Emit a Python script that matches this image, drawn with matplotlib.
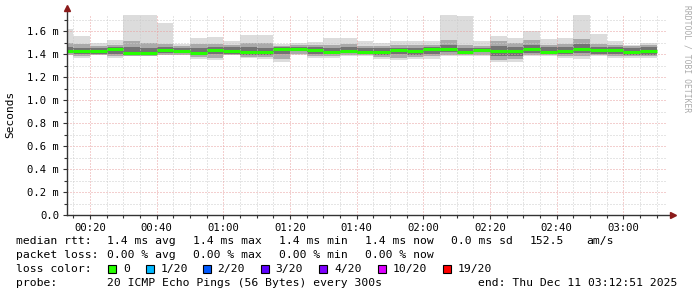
import matplotlib
matplotlib.use("Agg")
import matplotlib.pyplot as plt
from matplotlib.patches import Rectangle

# ---------------- data ----------------
bar_end = ["00:15", "00:20", "00:25", "00:30", "00:35", "00:40", "00:45", "00:50", "00:55",
           "01:00", "01:05", "01:10", "01:15", "01:20", "01:25", "01:30", "01:35", "01:40",
           "01:45", "01:50", "01:55", "02:00", "02:05", "02:10", "02:15", "02:20", "02:25",
           "02:30", "02:35", "02:40", "02:45", "02:50", "02:55", "03:00", "03:05", "03:10"]

rtt_med = [1.430, 1.425, 1.430, 1.440, 1.410, 1.412, 1.435, 1.430, 1.410, 1.435, 1.430, 1.415,
           1.420, 1.443, 1.447, 1.435, 1.418, 1.430, 1.420, 1.415, 1.435, 1.430, 1.443, 1.443,
           1.415, 1.435, 1.430, 1.430, 1.440, 1.415, 1.430, 1.440, 1.435, 1.435, 1.420, 1.425]
rtt_max = [1.620, 1.556, 1.500, 1.520, 1.740, 1.740, 1.670, 1.490, 1.540, 1.545, 1.515, 1.570,
           1.565, 1.490, 1.500, 1.508, 1.540, 1.540, 1.510, 1.500, 1.510, 1.510, 1.510, 1.740,
           1.730, 1.510, 1.556, 1.540, 1.600, 1.530, 1.540, 1.740, 1.575, 1.510, 1.480, 1.500]
rtt_p90 = [1.500, 1.490, 1.470, 1.480, 1.510, 1.500, 1.490, 1.470, 1.490, 1.490, 1.480, 1.500,
           1.500, 1.470, 1.480, 1.480, 1.480, 1.490, 1.470, 1.470, 1.480, 1.480, 1.480, 1.520,
           1.480, 1.470, 1.510, 1.500, 1.520, 1.480, 1.490, 1.530, 1.490, 1.480, 1.470, 1.480]
rtt_p75 = [1.460, 1.455, 1.450, 1.460, 1.460, 1.450, 1.460, 1.450, 1.450, 1.460, 1.460, 1.460,
           1.455, 1.460, 1.465, 1.460, 1.450, 1.460, 1.450, 1.450, 1.455, 1.450, 1.465, 1.480,
           1.450, 1.455, 1.470, 1.465, 1.480, 1.460, 1.460, 1.490, 1.465, 1.460, 1.450, 1.460]
rtt_p25 = [1.410, 1.400, 1.400, 1.405, 1.395, 1.395, 1.410, 1.410, 1.390, 1.400, 1.405, 1.390,
           1.395, 1.400, 1.425, 1.405, 1.400, 1.410, 1.400, 1.390, 1.400, 1.395, 1.405, 1.415,
           1.400, 1.415, 1.385, 1.385, 1.410, 1.400, 1.400, 1.410, 1.405, 1.400, 1.395, 1.390]
rtt_p10 = [1.395, 1.380, 1.392, 1.385, 1.385, 1.385, 1.395, 1.395, 1.375, 1.370, 1.395, 1.378,
           1.375, 1.360, 1.400, 1.385, 1.385, 1.390, 1.390, 1.375, 1.370, 1.375, 1.380, 1.395,
           1.390, 1.390, 1.350, 1.355, 1.395, 1.390, 1.385, 1.380, 1.390, 1.385, 1.380, 1.380]
rtt_min = [1.390, 1.365, 1.390, 1.370, 1.380, 1.380, 1.390, 1.390, 1.360, 1.350, 1.390, 1.365,
           1.360, 1.333, 1.390, 1.370, 1.370, 1.380, 1.380, 1.360, 1.350, 1.360, 1.360, 1.380,
           1.380, 1.380, 1.330, 1.335, 1.380, 1.385, 1.370, 1.360, 1.380, 1.370, 1.370, 1.370]

x_ticks = ["00:20", "00:40", "01:00", "01:20", "01:40", "02:00", "02:20", "02:40", "03:00"]
y_ticks = [0.0, 0.2, 0.4, 0.6, 0.8, 1.0, 1.2, 1.4, 1.6]
y_labels = ["0.0", "0.2 m", "0.4 m", "0.6 m", "0.8 m", "1.0 m", "1.2 m", "1.4 m", "1.6 m"]

loss_labels = ["0", "1/20", "2/20", "3/20", "4/20", "10/20", "19/20"]
loss_colors = ["#26ff00", "#00b8ff", "#0059ff", "#5e00ff", "#7e00ff", "#dd00ff", "#ff0000"]

def to_min(s):
    h, m = s.split(":")
    return int(h) * 60 + int(m)

step = 5
x_start, x_end = 13.0, 193.0
y_top = 1.74

W, H = 697, 297
fig = plt.figure(figsize=(W / 100, H / 100), dpi=100)
fig.patch.set_facecolor("white")
ax = fig.add_axes([66.7 / W, (H - 215) / H, 600 / W, 200 / H])
ax.set_facecolor("white")

ends = [to_min(s) for s in bar_end]
lefts = [e - step for e in ends]

layers = [(rtt_min, rtt_max, "#dcdcdc"),
          (rtt_p10, rtt_p90, "#aaaaaa"),
          (rtt_p25, rtt_p75, "#737373")]
for lo, hi, col in layers:
    ax.bar(lefts, [h - l for l, h in zip(lo, hi)], bottom=lo, width=step, align="edge",
           color=col, linewidth=0, zorder=1)

mono = "DejaVu Sans Mono"
# grid (drawn over smoke)
for i in range(1, 18):
    v = i * 0.1
    major = (i % 2 == 0)
    ax.axhline(v, color="#e8a0a0" if major else "#cccccc", lw=0.72,
               dashes=(1, 2), zorder=2)
for m in range(15, 195, 5):
    major = (m % 20 == 0)
    ax.axvline(m, color="#e8a0a0" if major else "#cccccc", lw=0.72,
               dashes=(1, 2), zorder=2)

# median lines
ax.hlines(rtt_med, lefts, ends, colors=loss_colors[0], lw=2.2, zorder=3)

ax.set_xlim(x_start, x_end)
ax.set_ylim(0, y_top)

for s in ax.spines.values():
    s.set_visible(False)

# axes lines with arrows
ax.plot([0, 0], [0, 1.03], transform=ax.transAxes, color="#333333", lw=1.0, clip_on=False, zorder=4)
ax.plot([0, 1.01], [0, 0], transform=ax.transAxes, color="#333333", lw=1.0, clip_on=False, zorder=4)
ax.plot([0], [1.035], marker="^", ms=4, color="#8b1a1a", transform=ax.transAxes, clip_on=False, zorder=5)
ax.plot([1.011], [0], marker=">", ms=4, color="#8b1a1a", transform=ax.transAxes, clip_on=False, zorder=5)

ax.set_xticks([to_min(s) for s in x_ticks])
ax.set_xticklabels(x_ticks, fontfamily=mono, fontsize=7.6)
ax.set_xticks(list(range(15, 195, 5)), minor=True)
ax.set_yticks(y_ticks)
ax.set_yticklabels(y_labels, fontfamily=mono, fontsize=7.6)
ax.set_yticks([i * 0.1 for i in range(18)], minor=True)
ax.tick_params(axis="both", which="major", length=3, width=0.8, color="#333333", pad=2.5)
ax.tick_params(axis="both", which="minor", length=2, width=0.8, color="#333333")
ax.tick_params(axis="y", which="major", pad=2.5)

fig.text(10.5 / W, 1 - 114 / H, "Seconds", rotation=90, ha="center", va="center",
         fontfamily=mono, fontsize=8, color="#000000")
fig.text(687 / W, 1 - 5 / H, "RRDTOOL / TOBI OETIKER", rotation=270, ha="center", va="top",
         fontfamily=mono, fontsize=5.8, color="#aaaaaa")

fs = 8.2
def t(x, y, s, **kw):
    fig.text(x / W, 1 - y / H, s, ha="left", va="center", fontfamily=mono, fontsize=fs,
             color="#000000", **kw)

t(16, 241, "median rtt:")
t(107.3, 241, "1.4 ms avg")
t(193.3, 241, "1.4 ms max")
t(279, 241, "1.4 ms min")
t(365, 241, "1.4 ms now")
t(451, 241, "0.0 ms sd")
t(530, 241, "152.5")
t(586, 241, "am/s")

t(16, 255, "packet loss:")
t(107.3, 255, "0.00 % avg")
t(193.3, 255, "0.00 % max")
t(279, 255, "0.00 % min")
t(365, 255, "0.00 % now")

t(16, 269, "loss color:")
box_x = [108.3, 145.7, 202.7, 261.0, 319.3, 377.7, 442.7]
for bx, lab, col in zip(box_x, loss_labels, loss_colors):
    fig.patches.append(Rectangle((bx / W, 1 - 273 / H), 8 / W, 8 / H, transform=fig.transFigure,
                                 facecolor=col, edgecolor="#000000", lw=0.8))
    t(bx + 14.7, 269, lab)

t(16, 283, "probe:")
t(107.3, 283, "20 ICMP Echo Pings (56 Bytes) every 300s")
t(478.3, 283, "end: Thu Dec 11 03:12:51 2025")

fig.savefig("out.png", dpi=100, facecolor="white")
